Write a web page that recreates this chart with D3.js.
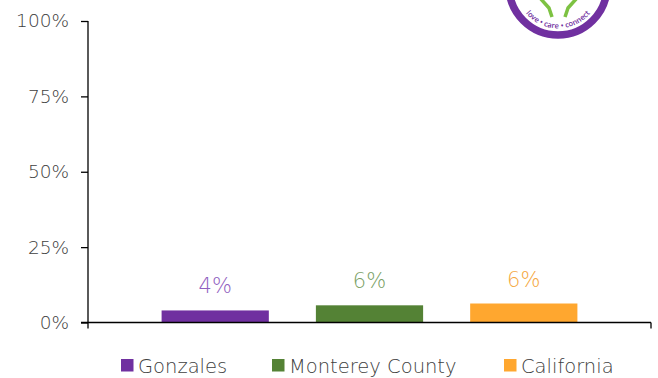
<!DOCTYPE html>
<html>
<head>
<meta charset="utf-8">
<script src="https://cdn.jsdelivr.net/npm/d3@7"></script>
<style>
  html, body { margin: 0; padding: 0; background: #fff; }
  svg { display: block; }
  svg text.thin { font-family: "DejaVu Sans", sans-serif; font-weight: 100; }
</style>
</head>
<body>
<svg id="chart" width="658" height="378"></svg>
<script>
// Share of residents, by area
const seriesNames = ["Gonzales", "Monterey County", "California"];
const seriesValues = [0.040, 0.057, 0.063];
const yTicks = [0, 0.25, 0.5, 0.75, 1];
const barColors = ["#7030A0", "#548235", "#FFA72F"];
const labelColors = ["#9060C0", "#7A9F66", "#F5A740"];

const svg = d3.select("#chart");
const plot = { left: 88, right: 651, top: 21, bottom: 322.5 };

const y = d3.scaleLinear().domain([0, 1]).range([plot.bottom, plot.top]);

// One category with the three series clustered inside it
const xCat = d3.scaleBand().domain([""]).range([plot.left, plot.right]).paddingOuter(0.177);
const xSeries = d3.scaleBand().domain(seriesNames)
  .range([xCat(""), xCat("") + xCat.bandwidth()])
  .paddingInner(0.305).paddingOuter(0);

// Bars
svg.append("g").selectAll("rect")
  .data(seriesNames)
  .join("rect")
  .attr("x", d => xSeries(d))
  .attr("width", xSeries.bandwidth())
  .attr("y", (d, i) => y(seriesValues[i]))
  .attr("height", (d, i) => y(0) - y(seriesValues[i]))
  .attr("fill", (d, i) => barColors[i]);

// Value labels
const fmt = d3.format(".0%");
svg.append("g").selectAll("text")
  .data(seriesNames)
  .join("text")
  .attr("class", "thin")
  .attr("x", d => xSeries(d) + xSeries.bandwidth() / 2)
  .attr("y", (d, i) => y(seriesValues[i]) - 17)
  .attr("text-anchor", "middle")
  .attr("font-size", 21)
  .attr("fill", (d, i) => labelColors[i])
  .text((d, i) => fmt(seriesValues[i]));

// Y axis
const yAxis = d3.axisLeft(y).tickValues(yTicks).tickFormat(d3.format(".0%"))
  .tickSize(7).tickPadding(12);
const gy = svg.append("g").attr("transform", `translate(${plot.left},0)`).call(yAxis);
gy.select(".domain").attr("stroke", "#000").attr("stroke-width", 1.3)
  .attr("d", `M0,${plot.top}V${plot.bottom + 6}`);
gy.selectAll(".tick line").attr("stroke", "#000").attr("stroke-width", 1.3);
gy.selectAll(".tick text").attr("class", "thin").attr("font-size", 18.5).attr("fill", "#404040");

// X axis: baseline with boundary tick marks
const gx = svg.append("g");
gx.append("line").attr("x1", plot.left - 7).attr("x2", plot.right)
  .attr("y1", plot.bottom).attr("y2", plot.bottom)
  .attr("stroke", "#000").attr("stroke-width", 1.3);
gx.append("line").attr("x1", plot.right).attr("x2", plot.right)
  .attr("y1", plot.bottom).attr("y2", plot.bottom + 6)
  .attr("stroke", "#000").attr("stroke-width", 1.3);

// Legend
const legendX = [121, 272, 504];
const lg = svg.append("g").selectAll("g")
  .data(seriesNames)
  .join("g")
  .attr("transform", (d, i) => `translate(${legendX[i]},359)`);
lg.append("rect").attr("width", 12.5).attr("height", 12.5).attr("fill", (d, i) => barColors[i]);
lg.append("text").attr("class", "thin").attr("x", 17).attr("y", 13.5)
  .attr("font-size", 19.5).attr("fill", "#404040").text(d => d);

// Logo badge, partly cut off at the top edge
const logo = svg.append("g").attr("transform", "translate(558,-14)");
logo.append("circle").attr("r", 49).attr("fill", "#fff").attr("stroke", "#7030A0").attr("stroke-width", 7.5);
// green figure legs
logo.append("path")
  .attr("d", "M-18,12 L-9,22 L-6,31 M19,12 L10,22 L7,31")
  .attr("fill", "none").attr("stroke", "#7DC242").attr("stroke-width", 3.5)
  .attr("stroke-linejoin", "round");
logo.append("path").attr("id", "logoArc")
  .attr("d", "M-36,22 A42,42 0 0 0 36,22")
  .attr("fill", "none");
logo.append("text").attr("font-size", 7.5).attr("fill", "#7030A0").attr("font-weight", 600)
  .attr("font-family", "'Open Sans', sans-serif")
  .append("textPath").attr("href", "#logoArc").attr("startOffset", "50%")
  .attr("text-anchor", "middle").text("love • care • connect");
</script>
</body>
</html>
